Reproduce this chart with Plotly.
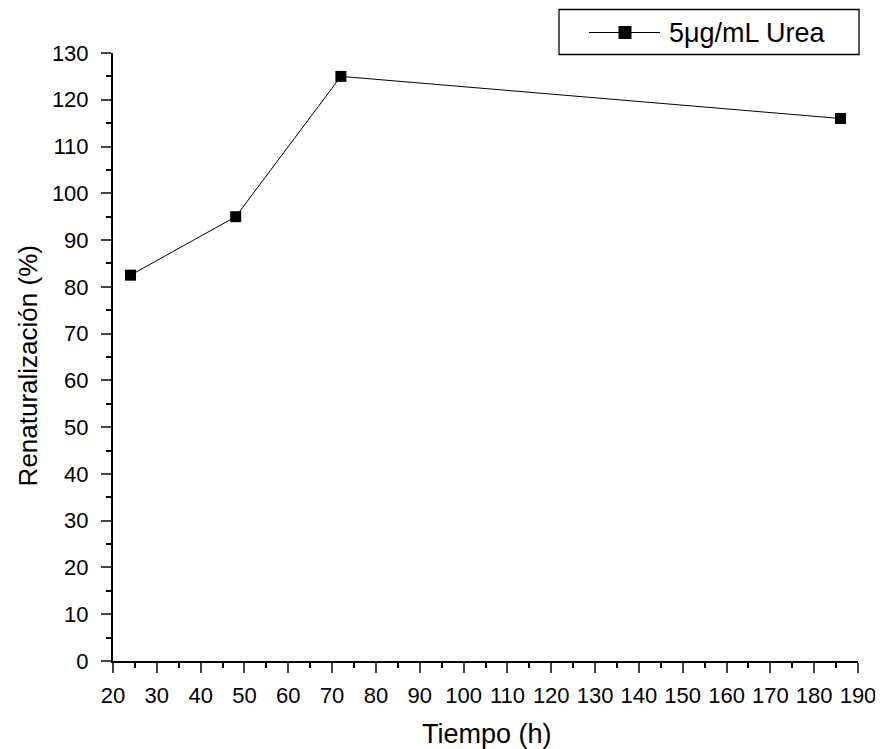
import plotly.graph_objects as go

tiempo = [24, 48, 72, 186]
renaturalizacion = [82.5, 95, 125, 116]
serie = "5μg/mL Urea"
x_ticks = list(range(20, 191, 10))
y_ticks = list(range(0, 131, 10))

# page has an 8px body margin, so the figure is 8px smaller than the window
W, H = 875, 741
L, R, T, B = 105, 25, 44.5, 88.3
pw, ph = W - L - R, H - T - B

def px_(x):
    return (x - L) / pw

def py_(y):
    return (H - B - y) / ph

font = "Liberation Sans, Arial, sans-serif"

fig = go.Figure()
fig.add_trace(go.Scatter(
    x=tiempo, y=renaturalizacion, mode="lines+markers", name=serie,
    line=dict(color="black", width=1),
    marker=dict(symbol="square", size=11, color="black"),
    showlegend=False,
))

# legend box (drawn by hand to match the long sample line)
fig.add_shape(type="rect", xref="paper", yref="paper",
              x0=px_(551), x1=px_(851), y0=py_(46), y1=py_(1),
              line=dict(color="black", width=1.3), fillcolor="white")
fig.add_shape(type="line", xref="paper", yref="paper",
              x0=px_(581), x1=px_(652), y0=py_(24), y1=py_(24),
              line=dict(color="black", width=1))
fig.add_shape(type="rect", xref="paper", yref="paper",
              x0=px_(610.5), x1=px_(623.5), y0=py_(30.5), y1=py_(17.5),
              line=dict(color="black", width=0), fillcolor="black")
fig.add_annotation(xref="paper", yref="paper", x=px_(659), y=py_(24),
                   text=serie, showarrow=False, xanchor="left", yanchor="middle",
                   font=dict(size=27, family=font, color="black"))

# axis titles
fig.add_annotation(xref="paper", yref="paper", x=px_(479.5), y=py_(726),
                   text="Tiempo (h)", showarrow=False, xanchor="center", yanchor="middle",
                   font=dict(size=27, family=font, color="black"))
fig.add_annotation(xref="paper", yref="paper", x=px_(20), y=py_(358),
                   text="Renaturalización (%)", showarrow=False, textangle=-90,
                   xanchor="center", yanchor="middle",
                   font=dict(size=26, family=font, color="black"))

fig.update_layout(
    width=W, height=H,
    margin=dict(l=L, r=R, t=T, b=B),
    plot_bgcolor="white", paper_bgcolor="white",
    font=dict(family=font, color="black", size=22),
    showlegend=False,
    xaxis=dict(
        range=[20, 190], tickvals=x_ticks, ticks="outside", ticklen=10, tickwidth=2,
        showline=True, linecolor="black", linewidth=2, showgrid=False, zeroline=False,
        minor=dict(ticks="outside", ticklen=5, tickwidth=2, dtick=5, tickcolor="black"),
        tickfont=dict(size=22), automargin=False, ticklabelstandoff=4,
    ),
    yaxis=dict(
        range=[0, 130], tickvals=y_ticks, ticks="outside", ticklen=10, tickwidth=2,
        showline=True, linecolor="black", linewidth=2, showgrid=False, zeroline=False,
        minor=dict(ticks="outside", ticklen=5, tickwidth=2, dtick=5, tickcolor="black"),
        tickfont=dict(size=22), automargin=False, ticklabelstandoff=8,
    ),
)
fig.write_html("out.html")
